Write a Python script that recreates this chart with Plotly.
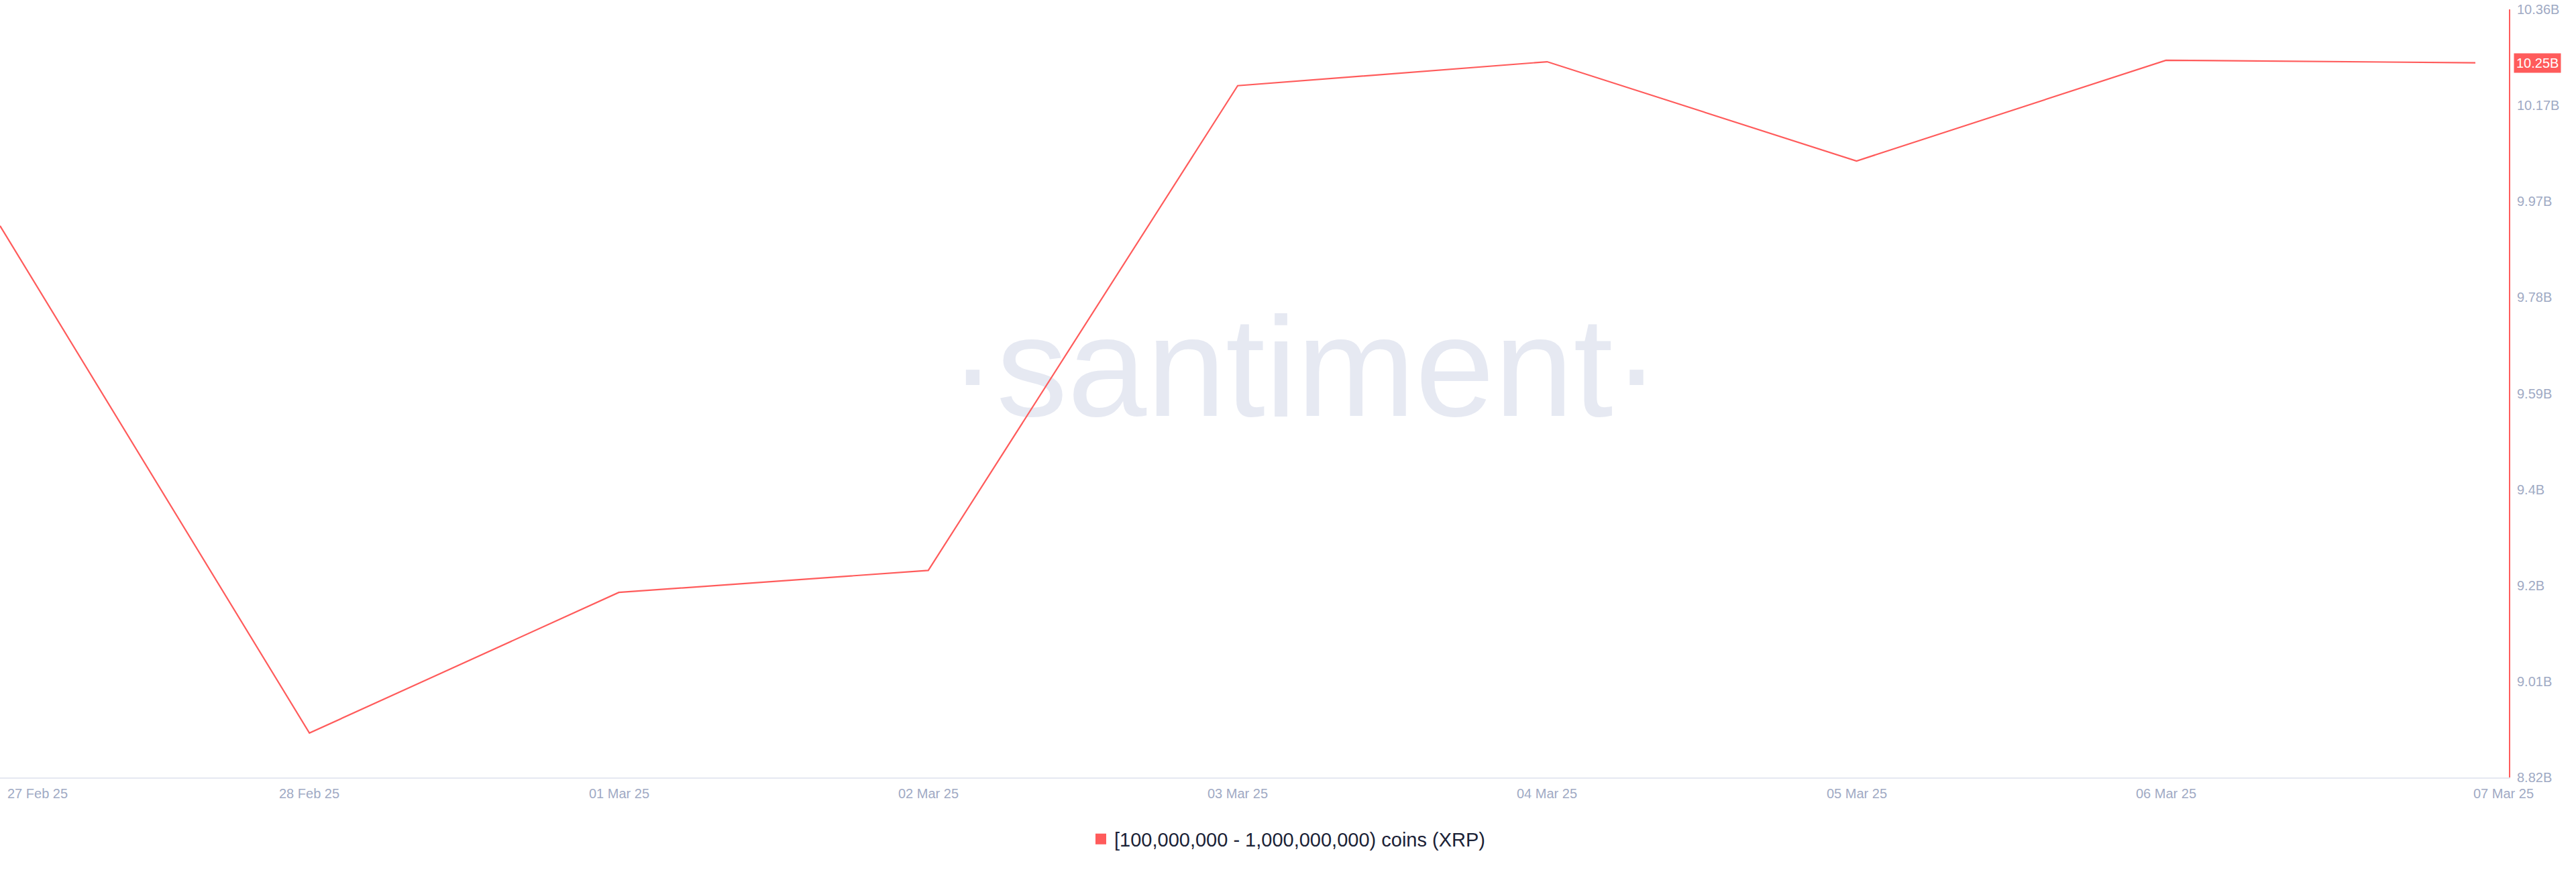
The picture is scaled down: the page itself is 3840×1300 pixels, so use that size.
import pandas as pd
import plotly.graph_objects as go

# ---------------- data ----------------
DATES = ["2025-02-27", "2025-02-28", "2025-03-01", "2025-03-02", "2025-03-03",
         "2025-03-04", "2025-03-05", "2025-03-06", "2025-03-07"]
X_TICK_LABELS = ["27 Feb 25", "28 Feb 25", "01 Mar 25", "02 Mar 25", "03 Mar 25",
                 "04 Mar 25", "05 Mar 25", "06 Mar 25", "07 Mar 25"]
# supply held by wallets with 100M - 1B XRP, in billions of coins
HOLDINGS_B = [9.924, 8.907, 9.189, 9.233, 10.205, 10.253, 10.054, 10.256, 10.251]
Y_TICK_LABELS = ["8.82B", "9.01B", "9.2B", "9.4B", "9.59B", "9.78B", "9.97B", "10.17B", "10.36B"]
SERIES_NAME = "[100,000,000 - 1,000,000,000) coins (XRP)"

# ---------------- style ----------------
RED = "#ff5b5b"
TICK_COLOR = "#9faac4"
AXIS_GREY = "#e5e8f1"
TEXT_DARK = "#1b2236"
FONT = "Liberation Sans, Arial, sans-serif"

Y_MIN, Y_MAX = 8.818, 10.358
n_ticks = len(Y_TICK_LABELS)
y_tickvals = [Y_MIN + (Y_MAX - Y_MIN) * i / (n_ticks - 1) for i in range(n_ticks)]

x_start = pd.Timestamp(DATES[0])
x_end = pd.Timestamp(DATES[-1]) + pd.Timedelta(hours=2, minutes=36)

fig = go.Figure()

fig.add_trace(go.Scatter(
    x=DATES, y=HOLDINGS_B, mode="lines",
    line=dict(color=RED, width=2.2),
    showlegend=False, hoverinfo="skip",
))
# legend entry (square swatch like the original)
fig.add_trace(go.Scatter(
    x=[None], y=[None], mode="markers", name=SERIES_NAME,
    marker=dict(symbol="square", size=18, color=RED),
))

# x tick labels as annotations (first/last kept inside the page)
annotations = []
for i, (d, lab) in enumerate(zip(DATES, X_TICK_LABELS)):
    if i == 0:
        anchor, shift = "left", 9
    elif i == len(DATES) - 1:
        anchor, shift = "left", -5
    else:
        anchor, shift = "center", 0
    annotations.append(dict(
        x=d, xref="x", y=0, yref="paper", yanchor="middle", yshift=-24,
        xanchor=anchor, xshift=shift, text=lab, showarrow=False,
        font=dict(family=FONT, size=20, color=TICK_COLOR),
    ))

# last value badge on the right axis
annotations.append(dict(
    x=1, xref="paper", xanchor="left", xshift=7,
    y=HOLDINGS_B[-1], yref="y", yanchor="middle",
    text=f"{HOLDINGS_B[-1]:.2f}B", showarrow=False,
    bgcolor=RED, borderpad=3,
    font=dict(family=FONT, size=20, color="white"),
))

fig.update_layout(
    width=3840, height=1300,
    margin=dict(l=0, r=100, t=14, b=141),
    paper_bgcolor="white", plot_bgcolor="white",
    annotations=annotations,
    shapes=[dict(
        type="rect", xref="paper", yref="paper",
        x0=0.04, x1=1.0, y0=0.106, y1=0.998,
        line=dict(width=0), fillcolor="rgba(0,0,0,0)", layer="below",
        label=dict(text="·santiment·", textposition="middle center",
                   font=dict(family=FONT, size=212, color="#e6e9f2")),
    )],
    legend=dict(
        orientation="h", xref="container", yref="container",
        x=0.5, xanchor="center", y=0.0377, yanchor="middle",
        font=dict(family=FONT, size=29, color=TEXT_DARK),
        bgcolor="rgba(0,0,0,0)",
    ),
    xaxis=dict(
        type="date", range=[x_start, x_end],
        showgrid=False, zeroline=False, showticklabels=False,
        showline=True, linecolor=AXIS_GREY, linewidth=2,
    ),
    yaxis=dict(
        side="right", range=[Y_MIN, Y_MAX],
        tickvals=y_tickvals, ticktext=Y_TICK_LABELS,
        showgrid=False, zeroline=False,
        showline=True, linecolor=RED, linewidth=2,
        ticks="", ticklabelstandoff=6,
        tickfont=dict(family=FONT, size=20, color=TICK_COLOR),
    ),
    showlegend=True,
)

fig.write_html(
    "out.html",
    config={"displayModeBar": False},
    post_script="document.body.style.margin='0';document.body.style.overflow='hidden';",
)
